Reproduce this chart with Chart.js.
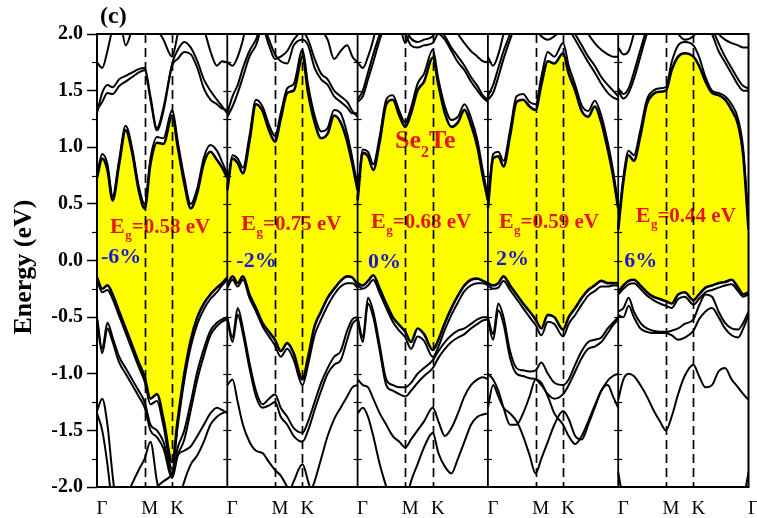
<!DOCTYPE html>
<html>
<head>
<meta charset="utf-8">
<script src="https://cdn.jsdelivr.net/npm/chart.js@4.4.1/dist/chart.umd.min.js"></script>
<style>
    html, body { margin: 0; padding: 0; background: #fff; }
    #wrap { width: 757px; height: 518px; }
</style>
</head>
<body>
<div id="wrap"><canvas id="chart" width="757" height="518"></canvas></div>
<script>
// k-path inside one panel: Γ (0) -> M -> K -> Γ (1)
const K_PATH = [0, 0.04, 0.08, 0.12, 0.17, 0.22, 0.27, 0.32, 0.366, 0.41, 0.46, 0.51, 0.577, 0.62, 0.67, 0.72, 0.77, 0.82, 0.87, 0.92, 0.96, 1];
const K_M = 0.366;
const K_K = 0.577;
const X_LABELS = ['Γ', 'M', 'K'];
const Y_TICKS = [-2, -1.5, -1, -0.5, 0, 0.5, 1, 1.5, 2];
const STRAINS = ['-6%', '-2%', '0%', '2%', '6%'];
const GAPS = ['0.58', '0.75', '0.68', '0.59', '0.44'];

// -6 %
const cb_m6  = [0.73, 0.90, 0.80, 0.53, 0.85, 1.15, 0.95, 0.62, 0.46, 0.85, 1.04, 1.03, 1.28, 1.00, 0.68, 0.46, 0.60, 0.86, 0.96, 0.89, 0.82, 0.73];
const cb2_m6 = [0.76, 0.94, 0.85, 0.57, 0.89, 1.19, 0.99, 0.66, 0.50, 0.90, 1.09, 1.08, 1.33, 1.05, 0.73, 0.50, 0.64, 0.91, 1.02, 0.97, 0.87, 0.76];
const c2_m6  = [1.30, 1.48, 1.55, 1.53, 1.60, 1.63, 1.66, 1.69, 1.70, 1.45, 1.17, 1.35, 1.74, 1.86, 1.93, 1.88, 1.76, 1.60, 1.50, 1.42, 1.36, 1.30];
const c2b_m6 = [1.33, 1.40, 1.48, 1.47, 1.54, 1.58, 1.62, 1.66, 1.68, 1.42, 1.15, 1.32, 1.72, 1.78, 1.84, 1.82, 1.70, 1.52, 1.42, 1.38, 1.34, 1.33];
const c3_m6  = [1.75, 1.70, 1.85, 2.05, 2.15, 1.90, 2.05, 2.25, 2.30, 2.20, 2.05, 1.95, 1.80, 2.00, 2.20, 2.30, 2.20, 2.05, 1.85, 1.72, 1.76, 1.75];
const vb_m6  = [-0.15, -0.25, -0.22, -0.30, -0.45, -0.60, -0.75, -0.90, -1.03, -1.22, -1.18, -1.40, -1.78, -1.40, -1.00, -0.70, -0.50, -0.38, -0.30, -0.24, -0.20, -0.15];
const vb2_m6 = [-0.17, -0.28, -0.26, -0.34, -0.49, -0.64, -0.79, -0.94, -1.07, -1.27, -1.24, -1.46, -1.84, -1.46, -1.06, -0.76, -0.56, -0.43, -0.34, -0.28, -0.22, -0.17];
const v3_m6  = [-0.50, -0.78, -0.55, -0.68, -0.85, -0.95, -1.05, -1.15, -1.25, -1.45, -1.50, -1.60, -1.88, -1.65, -1.50, -1.25, -0.98, -0.78, -0.62, -0.55, -0.52, -0.50];
const v3b_m6 = [-0.52, -0.82, -0.60, -0.72, -0.90, -1.00, -1.10, -1.20, -1.30, -1.50, -1.56, -1.66, -1.92, -1.72, -1.58, -1.32, -1.05, -0.84, -0.66, -0.58, -0.54, -0.52];
const v4_m6  = [-1.33, -1.22, -1.45, -1.90, -2.30, -2.10, -1.97, -1.85, -1.75, -1.60, -1.95, -2.20, -2.30, -2.15, -1.95, -1.80, -1.72, -1.60, -1.45, -1.38, -1.35, -1.33];
const v5_m6  = [-1.35, -1.50, -1.80, -2.20, -2.60, -2.60, -2.60, -2.50, -2.30, -2.10, -2.00, -1.95, -1.88, -1.72, -1.68, -1.64, -1.55, -1.45, -1.35, -1.30, -1.32, -1.35];

// -2 %
const cb_m2  = [0.62, 0.90, 0.86, 0.77, 1.05, 1.38, 1.32, 1.15, 1.05, 1.25, 1.48, 1.50, 1.80, 1.48, 1.22, 1.08, 1.12, 1.28, 1.22, 1.05, 0.85, 0.62];
const cb2_m2 = [0.65, 0.93, 0.90, 0.82, 1.10, 1.42, 1.36, 1.20, 1.10, 1.30, 1.52, 1.56, 1.86, 1.55, 1.28, 1.14, 1.17, 1.33, 1.30, 1.12, 0.90, 0.65];
const c2_m2  = [1.30, 1.45, 1.55, 1.70, 1.85, 1.95, 2.10, 1.95, 1.82, 1.76, 1.74, 1.90, 1.95, 1.90, 1.70, 1.60, 1.55, 1.45, 1.40, 1.35, 1.30, 1.30];
const c2b_m2 = [1.27, 1.36, 1.48, 1.62, 1.80, 1.90, 2.05, 1.90, 1.78, 1.80, 1.85, 1.95, 2.02, 1.95, 1.78, 1.65, 1.60, 1.50, 1.45, 1.40, 1.32, 1.27];
const c3_m2  = [1.75, 1.72, 1.80, 1.95, 2.20, 2.20, 2.10, 2.05, 2.20, 2.10, 2.00, 2.10, 2.20, 2.15, 2.20, 2.05, 1.95, 1.78, 1.85, 1.90, 1.80, 1.75];
const vb_m2  = [-0.22, -0.14, -0.20, -0.14, -0.30, -0.42, -0.55, -0.63, -0.70, -0.80, -0.73, -0.82, -1.05, -0.85, -0.58, -0.45, -0.33, -0.25, -0.18, -0.14, -0.15, -0.22];
const vb2_m2 = [-0.24, -0.17, -0.23, -0.17, -0.33, -0.45, -0.58, -0.67, -0.75, -0.85, -0.78, -0.88, -1.10, -0.92, -0.66, -0.52, -0.40, -0.30, -0.23, -0.20, -0.20, -0.24];
const v3_m2  = [-0.50, -0.68, -0.42, -0.60, -0.90, -1.15, -1.27, -1.22, -1.18, -1.30, -1.38, -1.48, -1.52, -1.42, -1.25, -1.08, -0.95, -0.85, -0.80, -0.62, -0.52, -0.50];
const v3b_m2 = [-0.52, -0.72, -0.48, -0.65, -0.95, -1.20, -1.30, -1.28, -1.25, -1.38, -1.45, -1.55, -1.60, -1.50, -1.32, -1.15, -1.00, -0.92, -0.88, -0.70, -0.56, -0.52];
const v4_m2  = [-1.10, -1.05, -1.25, -1.45, -1.60, -1.68, -1.70, -1.78, -1.85, -1.90, -2.00, -2.10, -2.20, -2.10, -1.95, -1.75, -1.55, -1.40, -1.30, -1.20, -1.12, -1.10];
const v5_m2  = [-2.60, -2.60, -2.60, -2.60, -2.60, -2.60, -2.60, -2.60, -2.50, -2.30, -2.10, -1.95, -1.80, -1.95, -2.15, -2.40, -2.60, -2.60, -2.60, -2.60, -2.60, -2.60];

// 0 %
const cb_0   = [0.53, 0.95, 0.92, 0.80, 1.05, 1.38, 1.42, 1.28, 1.18, 1.30, 1.50, 1.58, 1.79, 1.55, 1.30, 1.18, 1.22, 1.33, 1.20, 1.00, 0.75, 0.53];
const cb2_0  = [0.56, 0.98, 0.96, 0.85, 1.10, 1.42, 1.46, 1.32, 1.22, 1.35, 1.56, 1.65, 1.86, 1.60, 1.36, 1.24, 1.27, 1.38, 1.26, 1.06, 0.80, 0.56];
const c2_0   = [1.40, 1.45, 1.60, 1.75, 1.95, 2.10, 2.20, 2.10, 2.00, 1.90, 1.88, 1.90, 1.92, 2.00, 1.95, 1.85, 1.75, 1.68, 1.58, 1.50, 1.44, 1.40];
const c2b_0  = [1.42, 1.50, 1.66, 1.82, 2.00, 2.15, 2.25, 2.15, 2.05, 1.96, 1.93, 1.95, 1.98, 2.05, 1.98, 1.88, 1.80, 1.72, 1.62, 1.54, 1.46, 1.42];
const c3_0   = [1.75, 1.70, 1.80, 1.95, 2.20, 2.30, 2.20, 2.10, 1.92, 2.05, 2.15, 2.20, 2.10, 2.15, 2.20, 2.10, 2.00, 1.92, 1.85, 1.80, 1.76, 1.75];
const vb_0   = [-0.20, -0.22, -0.18, -0.13, -0.25, -0.38, -0.50, -0.57, -0.63, -0.72, -0.60, -0.65, -0.79, -0.70, -0.55, -0.42, -0.31, -0.22, -0.17, -0.16, -0.18, -0.20];
const vb2_0  = [-0.22, -0.25, -0.22, -0.17, -0.29, -0.42, -0.54, -0.62, -0.68, -0.78, -0.67, -0.71, -0.85, -0.76, -0.61, -0.48, -0.37, -0.27, -0.22, -0.20, -0.20, -0.22];
const v3_0   = [-0.50, -0.68, -0.33, -0.45, -0.75, -1.05, -1.10, -1.12, -1.12, -1.08, -1.00, -0.95, -0.88, -0.80, -0.72, -0.66, -0.62, -0.60, -0.56, -0.52, -0.50, -0.50];
const v3b_0  = [-0.52, -0.72, -0.38, -0.50, -0.80, -1.10, -1.15, -1.18, -1.20, -1.15, -1.08, -1.02, -0.95, -0.86, -0.78, -0.72, -0.68, -0.65, -0.60, -0.56, -0.53, -0.52];
const v4_0   = [-1.05, -1.10, -1.12, -1.22, -1.35, -1.45, -1.55, -1.60, -1.65, -1.58, -1.50, -1.42, -1.30, -1.42, -1.55, -1.48, -1.35, -1.20, -1.10, -1.05, -1.03, -1.05];
const v5_0   = [-1.35, -1.30, -1.38, -1.55, -1.80, -2.00, -2.20, -2.30, -2.15, -1.95, -1.80, -1.65, -1.52, -1.70, -1.82, -1.88, -1.75, -1.60, -1.45, -1.38, -1.36, -1.35];

// +2 %
const cb_p2  = [0.46, 0.90, 0.92, 0.83, 1.10, 1.40, 1.42, 1.36, 1.33, 1.55, 1.76, 1.74, 1.83, 1.65, 1.50, 1.32, 1.27, 1.36, 1.22, 0.98, 0.75, 0.46];
const cb2_p2 = [0.49, 0.94, 0.96, 0.88, 1.15, 1.45, 1.47, 1.40, 1.38, 1.62, 1.84, 1.80, 1.92, 1.72, 1.55, 1.37, 1.32, 1.41, 1.28, 1.04, 0.80, 0.49];
const c2_p2  = [1.45, 1.55, 1.70, 1.85, 2.00, 2.15, 2.20, 2.15, 2.05, 1.98, 1.95, 1.98, 2.05, 2.10, 2.00, 1.90, 1.80, 1.72, 1.62, 1.55, 1.50, 1.45];
const c2b_p2 = [1.42, 1.48, 1.62, 1.78, 1.95, 2.10, 2.15, 2.10, 2.02, 2.00, 2.02, 2.08, 2.15, 2.05, 1.95, 1.85, 1.75, 1.66, 1.56, 1.48, 1.44, 1.42];
const c3_p2  = [1.80, 1.72, 1.82, 2.00, 2.20, 2.30, 2.30, 2.25, 2.20, 2.20, 2.25, 2.20, 2.15, 2.25, 2.20, 2.10, 2.00, 1.92, 1.86, 1.82, 1.80, 1.80];
const vb_p2  = [-0.20, -0.22, -0.20, -0.14, -0.22, -0.30, -0.38, -0.45, -0.52, -0.60, -0.48, -0.50, -0.61, -0.50, -0.42, -0.33, -0.26, -0.22, -0.18, -0.20, -0.20, -0.20];
const vb2_p2 = [-0.22, -0.25, -0.24, -0.18, -0.26, -0.34, -0.42, -0.50, -0.57, -0.66, -0.54, -0.56, -0.67, -0.56, -0.48, -0.39, -0.31, -0.27, -0.23, -0.23, -0.22, -0.22];
const v3_p2  = [-0.50, -0.65, -0.38, -0.50, -0.80, -0.95, -0.97, -0.98, -0.97, -0.90, -1.00, -1.08, -1.10, -1.05, -0.92, -0.80, -0.72, -0.70, -0.68, -0.60, -0.55, -0.50];
const v3b_p2 = [-0.52, -0.70, -0.44, -0.56, -0.86, -1.00, -1.02, -1.04, -1.05, -1.10, -1.18, -1.22, -1.18, -1.10, -0.98, -0.86, -0.78, -0.76, -0.72, -0.64, -0.57, -0.52];
const v4_p2  = [-1.30, -1.10, -1.20, -1.30, -1.35, -1.42, -1.55, -1.72, -1.88, -1.75, -1.60, -1.45, -1.33, -1.40, -1.55, -1.58, -1.45, -1.30, -1.15, -1.10, -1.20, -1.30];
const v5_p2  = [-1.00, -1.05, -1.15, -1.30, -1.45, -1.45, -1.35, -1.20, -1.05, -1.08, -1.20, -1.35, -1.45, -1.55, -1.62, -1.55, -1.42, -1.28, -1.15, -1.06, -1.02, -1.00];

// +6 %
const cb_p6  = [0.27, 0.70, 0.93, 0.88, 1.10, 1.38, 1.47, 1.49, 1.50, 1.68, 1.80, 1.83, 1.80, 1.72, 1.58, 1.48, 1.46, 1.42, 1.33, 1.20, 0.92, 0.27];
const cb2_p6 = [0.30, 0.74, 0.97, 0.93, 1.15, 1.42, 1.50, 1.52, 1.53, 1.75, 1.90, 1.93, 1.90, 1.80, 1.62, 1.50, 1.48, 1.45, 1.38, 1.25, 0.98, 0.30];
const c2_p6  = [1.50, 1.43, 1.48, 1.60, 1.80, 2.00, 2.15, 2.20, 2.20, 2.10, 2.00, 1.95, 1.98, 2.05, 2.10, 2.00, 1.85, 1.75, 1.65, 1.55, 1.50, 1.50];
const c2b_p6 = [1.52, 1.47, 1.52, 1.66, 1.86, 2.05, 2.20, 2.25, 2.25, 2.15, 2.05, 2.00, 2.03, 2.10, 2.15, 2.05, 1.92, 1.80, 1.70, 1.60, 1.54, 1.52];
const c3_p6  = [1.88, 1.82, 1.85, 2.00, 2.20, 2.30, 2.30, 2.30, 2.30, 2.30, 2.30, 2.30, 2.30, 2.30, 2.25, 2.10, 2.00, 1.95, 1.92, 1.90, 1.88, 1.88];
const vb_p6  = [-0.28, -0.22, -0.18, -0.17, -0.22, -0.28, -0.32, -0.34, -0.36, -0.38, -0.30, -0.28, -0.35, -0.30, -0.24, -0.22, -0.20, -0.19, -0.17, -0.24, -0.30, -0.28];
const vb2_p6 = [-0.30, -0.25, -0.21, -0.20, -0.25, -0.31, -0.35, -0.38, -0.40, -0.42, -0.34, -0.32, -0.39, -0.34, -0.28, -0.26, -0.24, -0.22, -0.21, -0.27, -0.32, -0.30];
const v3_p6  = [-0.45, -0.42, -0.33, -0.45, -0.55, -0.60, -0.62, -0.63, -0.63, -0.62, -0.60, -0.56, -0.52, -0.40, -0.30, -0.32, -0.45, -0.55, -0.60, -0.61, -0.55, -0.45];
const v3b_p6 = [-0.48, -0.50, -0.40, -0.50, -0.60, -0.63, -0.64, -0.64, -0.64, -0.66, -0.70, -0.68, -0.62, -0.52, -0.45, -0.42, -0.50, -0.60, -0.66, -0.68, -0.60, -0.48];
const v4_p6  = [-1.23, -1.05, -1.00, -1.02, -1.10, -1.20, -1.32, -1.42, -1.50, -1.38, -1.18, -1.02, -0.92, -1.02, -1.12, -1.10, -0.98, -0.95, -1.05, -1.12, -1.18, -1.23];
const v5_p6  = [-1.87, -2.15, -2.60, -2.60, -2.60, -2.60, -2.60, -2.60, -2.60, -2.60, -2.60, -2.60, -2.60, -2.60, -2.60, -2.60, -2.60, -2.60, -2.60, -2.60, -2.15, -1.87];

// [band above gap, band below gap, other bands]
const PANELS = [
    [cb_m6, vb_m6, [cb2_m6, c2_m6, c2b_m6, c3_m6, vb2_m6, v3_m6, v3b_m6, v4_m6, v5_m6]],
    [cb_m2, vb_m2, [cb2_m2, c2_m2, c2b_m2, c3_m2, vb2_m2, v3_m2, v3b_m2, v4_m2, v5_m2]],
    [cb_0, vb_0, [cb2_0, c2_0, c2b_0, c3_0, vb2_0, v3_0, v3b_0, v4_0, v5_0]],
    [cb_p2, vb_p2, [cb2_p2, c2_p2, c2b_p2, c3_p2, vb2_p2, v3_p2, v3b_p2, v4_p2, v5_p2]],
    [cb_p6, vb_p6, [cb2_p6, c2_p6, c2b_p6, c3_p6, vb2_p6, v3_p6, v3b_p6, v4_p6, v5_p6]]
];

const X_TICK_VALUES = [];
const X_TICK_TEXT = [];
PANELS.forEach((_, p) => {
    [0, K_M, K_K].forEach((k, j) => {
        X_TICK_VALUES.push(p + k);
        X_TICK_TEXT.push(X_LABELS[j]);
    });
});
X_TICK_VALUES.push(PANELS.length);
X_TICK_TEXT.push('Γ');

const SERIF = '"Liberation Serif", "Times New Roman", serif';
const RED = '#e51616';
const BLUE = '#1a1acb';

function band(p, arr, extra) {
    return Object.assign({
        data: K_PATH.map((k, i) => ({ x: p + k, y: arr[i] })),
        borderColor: '#000',
        borderWidth: 2,
        pointRadius: 0,
        fill: false,
        cubicInterpolationMode: 'monotone'
    }, extra || {});
}

const datasets = [];
PANELS.forEach(([cb, vb, rest], p) => {
    const cbIndex = datasets.length;
    datasets.push(band(p, cb, { borderWidth: 2.6 }));
    datasets.push(band(p, vb, { borderWidth: 2.6, fill: cbIndex, backgroundColor: '#ffff00' }));
    rest.forEach(arr => datasets.push(band(p, arr)));
});

// frame, high-symmetry lines, small ticks and the annotations
const decor = {
    id: 'decor',
    afterDatasetsDraw(chart) {
        const { ctx, chartArea: a, scales: { x, y } } = chart;
        ctx.save();

        // texts
        ctx.fillStyle = '#000';
        ctx.font = 'bold 24px ' + SERIF;
        ctx.fillText('(c)', 100, 23);

        ctx.save();
        ctx.translate(31, 267);
        ctx.rotate(-Math.PI / 2);
        ctx.textAlign = 'center';
        ctx.font = 'bold 26px ' + SERIF;
        ctx.fillText('Energy (eV)', 0, 0);
        ctx.restore();

        const egDx = [13, 14, 13.5, 11, 17.5];
        const egY = [233, 230, 228, 228, 222];
        const pctDx = [4, 9, 10.5, 8, 6];
        const pctY = [263, 267, 268, 265, 267];
        PANELS.forEach((_, p) => {
            const left = x.getPixelForValue(p);
            let tx = left + egDx[p];
            ctx.fillStyle = RED;
            ctx.font = 'bold 22px ' + SERIF;
            ctx.fillText('E', tx, egY[p]);
            tx += ctx.measureText('E').width + 0.5;
            ctx.font = 'bold 13px ' + SERIF;
            ctx.fillText('g', tx, egY[p] + 6);
            tx += ctx.measureText('g').width;
            ctx.font = 'bold 21px ' + SERIF;
            ctx.fillText('=' + GAPS[p] + ' eV', tx, egY[p]);

            ctx.fillStyle = BLUE;
            ctx.font = 'bold 22px ' + SERIF;
            ctx.fillText(STRAINS[p], left + pctDx[p], pctY[p]);
        });

        // Se2Te label in the middle panel
        ctx.fillStyle = RED;
        let sx = x.getPixelForValue(2) + 37.5;
        ctx.font = 'bold 26px ' + SERIF;
        ctx.fillText('Se', sx, 148);
        sx += ctx.measureText('Se').width;
        ctx.font = 'bold 16px ' + SERIF;
        ctx.fillText('2', sx, 157);
        sx += ctx.measureText('2').width;
        ctx.font = 'bold 26px ' + SERIF;
        ctx.fillText('Te', sx, 148);

        ctx.strokeStyle = '#000';
        const seg = (x1, y1, x2, y2) => {
            ctx.beginPath();
            ctx.moveTo(x1, y1);
            ctx.lineTo(x2, y2);
            ctx.stroke();
        };

        // dashed M and K lines
        ctx.lineWidth = 1.7;
        ctx.setLineDash([9, 5]);
        PANELS.forEach((_, p) => {
            [K_M, K_K].forEach(k => {
                const px = Math.round(x.getPixelForValue(p + k)) + 0.5;
                seg(px, a.top, px, a.bottom);
            });
        });
        ctx.setLineDash([]);

        // panel dividers
        ctx.lineWidth = 1.8;
        for (let p = 1; p < PANELS.length; p++) {
            const px = x.getPixelForValue(p);
            seg(px, a.top, px, a.bottom);
        }

        // small ticks on the left axis and along the dividers
        ctx.lineWidth = 1.2;
        for (let e = -1.75; e < 2; e += 0.25) {
            const py = Math.round(y.getPixelForValue(e)) + 0.5;
            if (Math.abs(e * 2 - Math.round(e * 2)) > 0.01) seg(a.left - 5, py, a.left, py);
            for (let p = 1; p < PANELS.length; p++) {
                const px = x.getPixelForValue(p);
                seg(px - 4, py, px + 4, py);
            }
        }

        // frame
        ctx.lineWidth = 2;
        ctx.strokeRect(a.left, a.top, a.right - a.left, a.bottom - a.top);
        ctx.restore();
    }
};

new Chart(document.getElementById('chart'), {
    type: 'line',
    data: { datasets: datasets },
    options: {
        responsive: false,
        animation: false,
        events: [],
        layout: { padding: { top: 34, right: 7, bottom: 0, left: 0 } },
        plugins: {
            legend: { display: false },
            tooltip: { enabled: false },
            filler: { drawTime: 'beforeDatasetsDraw' }
        },
        scales: {
            x: {
                type: 'linear',
                min: 0,
                max: PANELS.length,
                afterBuildTicks: s => { s.ticks = X_TICK_VALUES.map(v => ({ value: v })); },
                afterFit: s => { s.height = 31; },
                ticks: {
                    autoSkip: false,
                    maxRotation: 0,
                    labelOffset: 5,
                    padding: 3,
                    color: '#000',
                    font: { family: SERIF, size: 19 },
                    callback: (v, i) => X_TICK_TEXT[i]
                },
                grid: { display: false },
                border: { display: false }
            },
            y: {
                min: -2,
                max: 2,
                afterBuildTicks: s => { s.ticks = Y_TICKS.map(v => ({ value: v })); },
                afterFit: s => { s.width = 97; },
                ticks: {
                    padding: 4,
                    color: '#000',
                    font: { family: SERIF, size: 20, weight: 'bold' },
                    callback: v => v.toFixed(1)
                },
                grid: {
                    drawOnChartArea: false,
                    drawTicks: true,
                    tickLength: 10,
                    tickWidth: 1.5,
                    tickColor: '#000'
                },
                border: { display: false }
            }
        }
    },
    plugins: [decor]
});
</script>
</body>
</html>
